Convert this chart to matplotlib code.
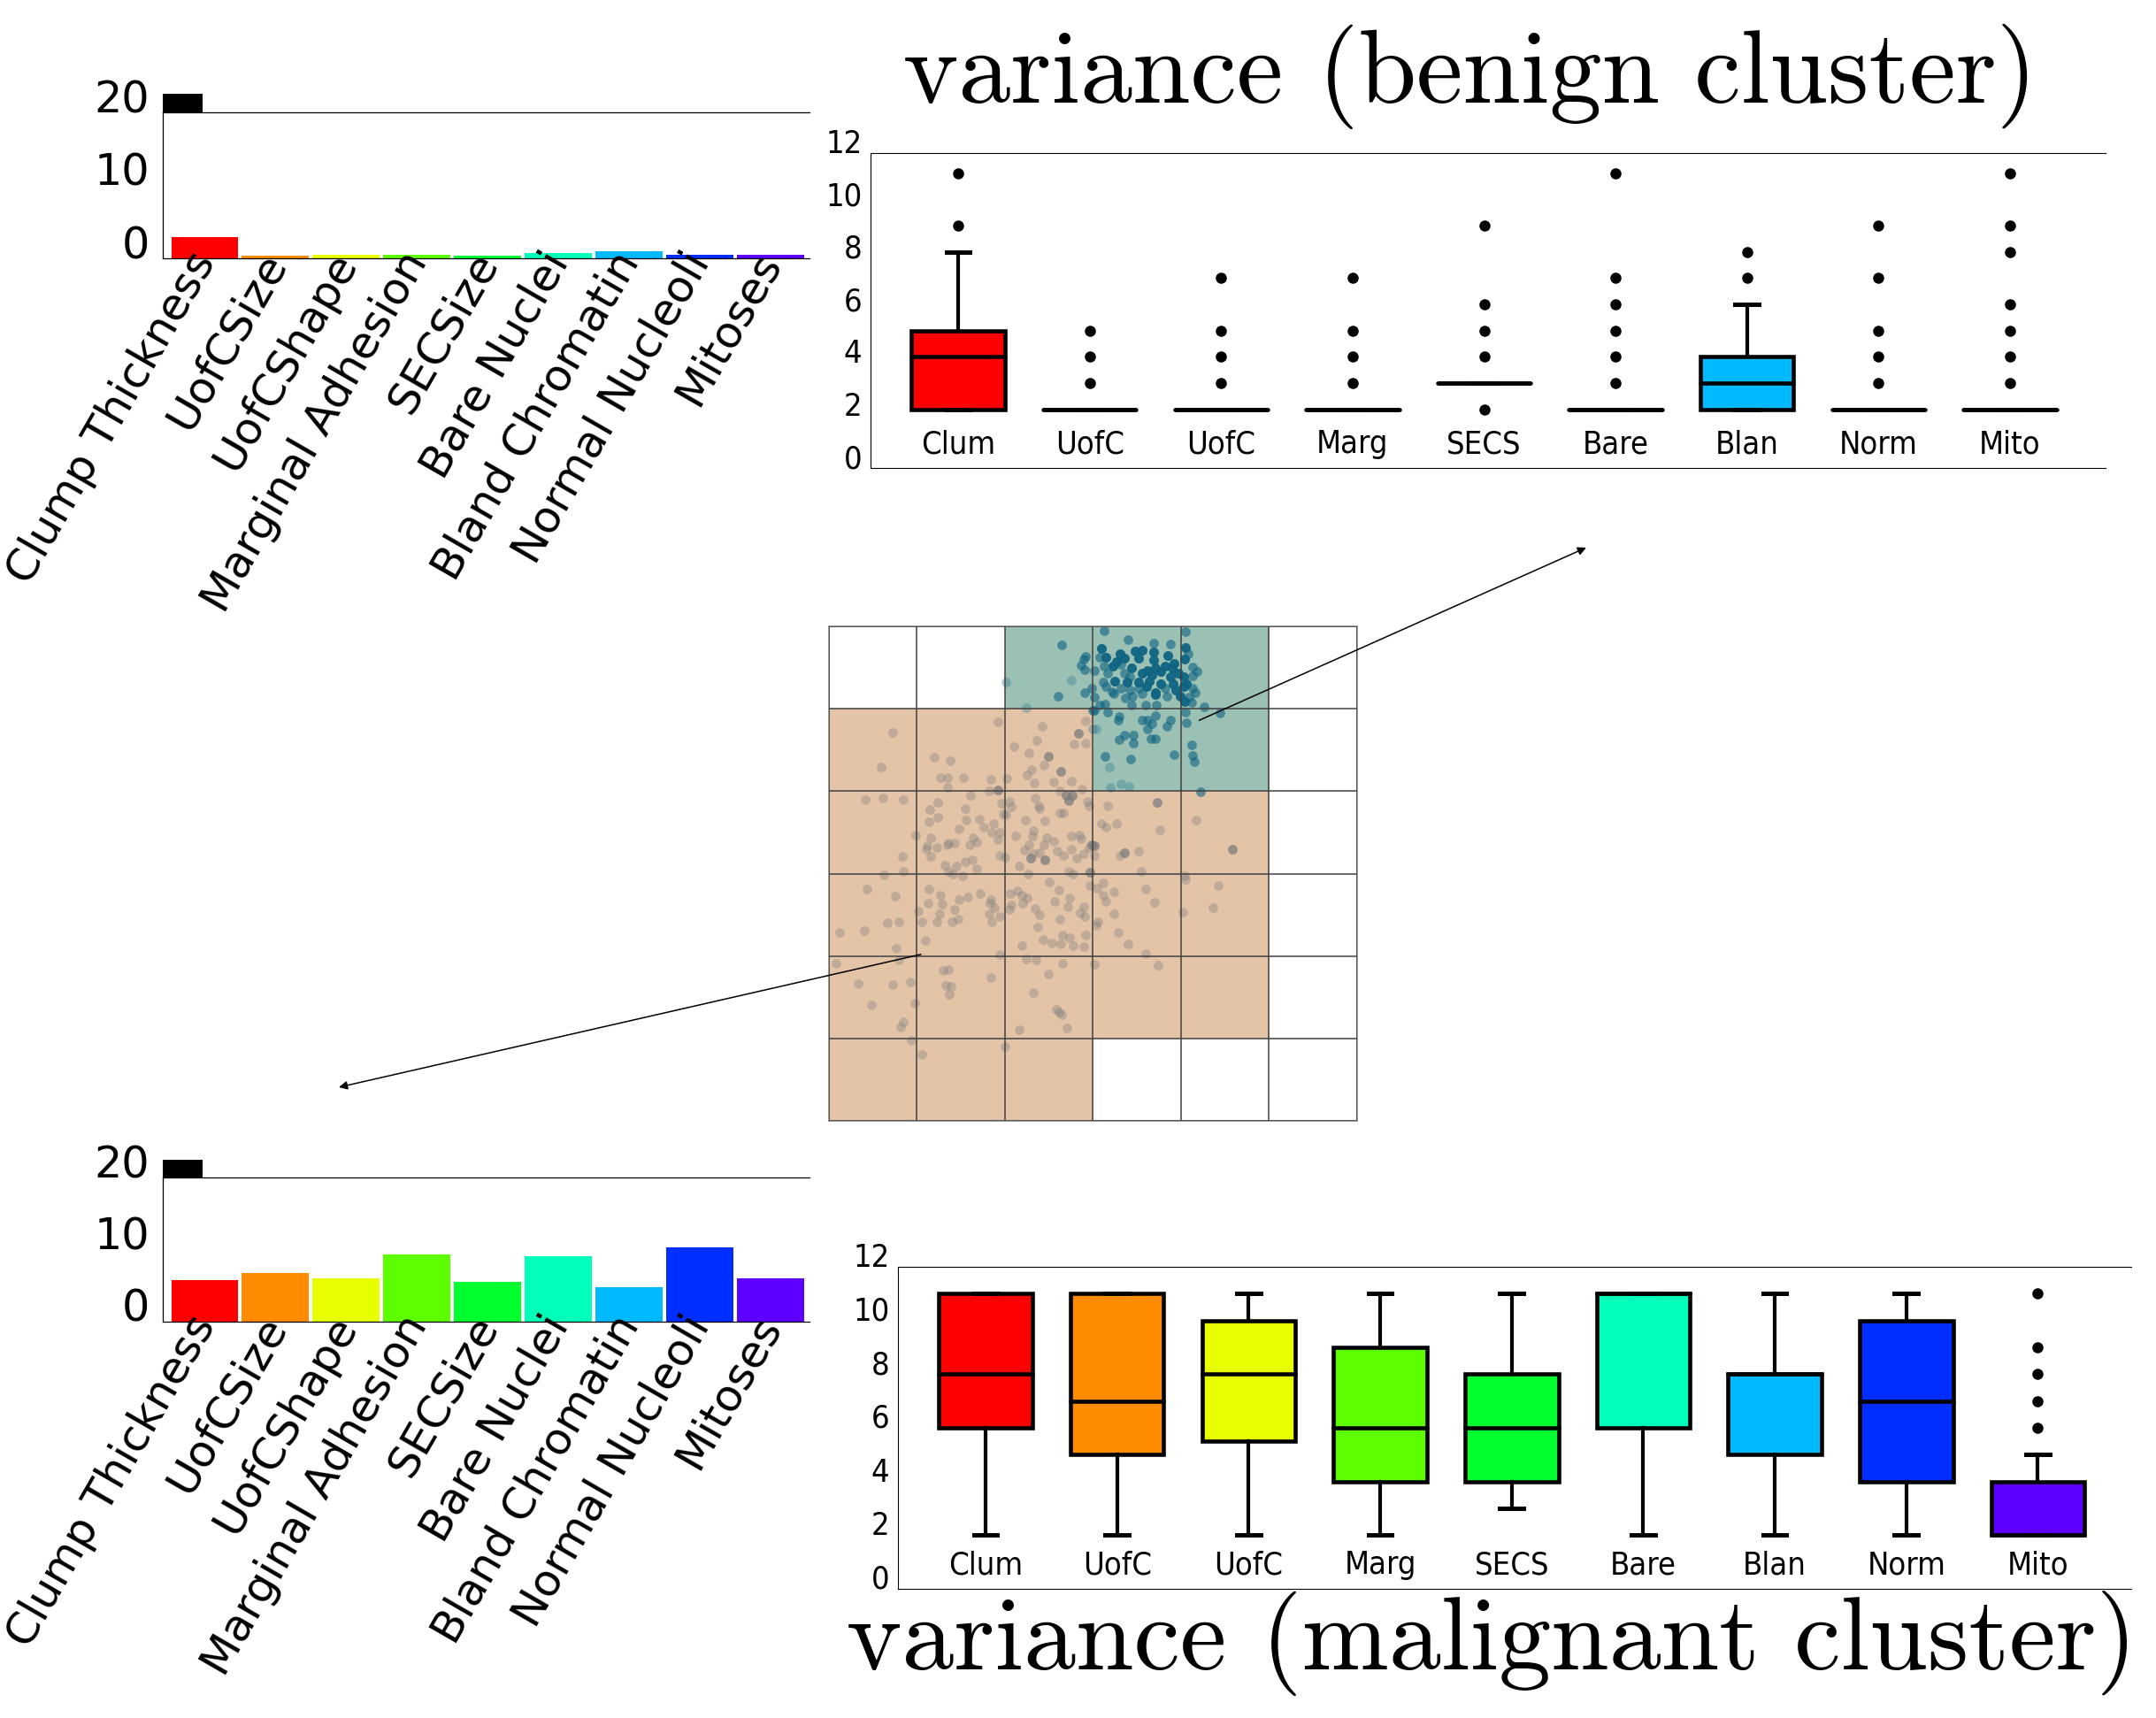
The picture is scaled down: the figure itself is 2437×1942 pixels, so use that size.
import colorsys
import numpy as np
import matplotlib
matplotlib.use('Agg')
import matplotlib.pyplot as plt
from matplotlib.colors import ListedColormap

# feature names and rainbow colours
features = ['Clump Thickness', 'UofCSize', 'UofCShape', 'Marginal Adhesion', 'SECSize',
            'Bare Nuclei', 'Bland Chromatin', 'Normal Nucleoli', 'Mitoses']
short_names = [f[:4] for f in features]
colors = [colorsys.hsv_to_rgb(i / 11.0, 1, 1) for i in range(9)]

# bar heights (left panels)
benign_bars = [2.9, 0.35, 0.5, 0.5, 0.35, 0.76, 0.96, 0.5, 0.5]
malignant_bars = [5.8, 6.77, 6.05, 9.35, 5.55, 9.1, 4.83, 10.33, 6.05]

# box statistics, benign cluster
b_q1 = [2.24, 2.24, 2.24, 2.24, 3.24, 2.24, 2.24, 2.24, 2.24]
b_med = [4.24, 2.24, 2.24, 2.24, 3.24, 2.24, 3.24, 2.24, 2.24]
b_q3 = [5.24, 2.24, 2.24, 2.24, 3.24, 2.24, 4.24, 2.24, 2.24]
b_lo = [2.24, 2.24, 2.24, 2.24, 3.24, 2.24, 2.24, 2.24, 2.24]
b_hi = [8.24, 2.24, 2.24, 2.24, 3.24, 2.24, 6.24, 2.24, 2.24]
b_fliers = [[9.24, 11.24], [3.24, 4.24, 5.24], [3.24, 4.24, 5.24, 7.24],
            [3.24, 4.24, 5.24, 7.24], [2.24, 4.24, 5.24, 6.24, 9.24],
            [3.24, 4.24, 5.24, 6.24, 7.24, 11.24], [7.24, 8.24],
            [3.24, 4.24, 5.24, 7.24, 9.24], [3.24, 4.24, 5.24, 6.24, 8.24, 9.24, 11.24]]

# box statistics, malignant cluster
m_q1 = [6, 5, 5.5, 4, 4, 6, 5, 4, 2]
m_med = [8, 7, 8, 6, 6, 11, 8, 7, 2]
m_q3 = [11, 11, 10, 9, 8, 11, 8, 10, 4]
m_lo = [2, 2, 2, 2, 3, 2, 2, 2, 2]
m_hi = [11, 11, 11, 11, 11, 11, 11, 11, 5]
m_fliers = [[], [], [], [], [], [], [], [], [6, 7, 8, 9, 11]]

# SOM map: 0 empty, 1 malignant, 2 benign (rows top -> bottom)
som_clusters = np.array([[0, 0, 2, 2, 2, 0],
                         [1, 1, 1, 2, 2, 0],
                         [1, 1, 1, 1, 1, 0],
                         [1, 1, 1, 1, 1, 0],
                         [1, 1, 1, 1, 1, 0],
                         [1, 1, 1, 0, 0, 0]])

# projected samples on the map
benign_pts = np.array([
    (2.65, 5.78), (2.92, 5.64), (2.90, 5.60), (2.87, 5.53), (2.91, 5.47), (2.99, 5.25), (2.91, 5.20),
    (2.61, 5.15), (3.00, 4.98), (3.13, 5.95), (4.05, 5.94), (3.40, 5.84), (3.69, 5.80), (3.88, 5.79),
    (3.10, 5.73), (3.08, 5.63), (3.15, 5.63), (3.31, 5.67), (3.48, 5.70), (3.56, 5.71), (3.69, 5.69),
    (3.85, 5.65), (4.05, 5.74), (4.08, 5.67), (3.27, 5.57), (3.36, 5.61), (3.52, 5.61), (3.69, 5.59),
    (3.92, 5.55), (4.04, 5.60), (3.13, 5.52), (3.23, 5.52), (3.32, 5.54), (3.44, 5.50), (3.62, 5.46),
    (3.71, 5.50), (3.82, 5.52), (3.90, 5.50), (4.13, 5.51), (4.19, 5.45), (3.02, 5.46), (3.17, 5.43),
    (3.36, 5.43), (3.42, 5.39), (3.56, 5.43), (3.67, 5.41), (3.77, 5.45), (3.88, 5.39), (3.97, 5.43),
    (4.03, 5.39), (4.13, 5.40), (3.12, 5.32), (3.25, 5.34), (3.39, 5.32), (3.52, 5.32), (3.64, 5.33),
    (3.77, 5.30), (3.91, 5.30), (4.06, 5.30), (3.15, 5.27), (3.22, 5.21), (3.32, 5.25), (3.42, 5.23),
    (3.52, 5.25), (3.61, 5.27), (3.71, 5.20), (3.82, 5.25), (3.94, 5.23), (4.03, 5.27), (4.13, 5.25),
    (3.24, 5.18), (3.37, 5.13), (3.45, 5.15), (3.56, 5.18), (3.71, 5.17), (3.84, 5.15), (3.99, 5.15),
    (4.09, 5.14), (4.16, 5.20), (3.44, 5.05), (3.60, 5.05), (3.72, 5.04), (4.04, 5.09), (4.12, 5.08),
    (3.02, 5.14), (3.08, 5.05), (3.14, 5.06), (3.17, 4.96), (3.02, 4.98), (4.27, 5.02), (4.45, 4.95),
    (4.05, 4.96), (3.30, 4.91), (3.29, 4.86), (3.71, 4.92), (3.56, 4.86), (3.62, 4.86), (3.67, 4.82),
    (3.88, 4.86), (3.84, 4.79), (4.06, 4.83), (3.62, 4.76), (3.36, 4.68), (3.30, 4.63), (3.46, 4.68),
    (3.46, 4.58), (3.66, 4.64), (3.71, 4.64), (4.12, 4.56), (3.92, 4.44), (3.14, 4.42), (3.43, 4.39),
    (4.13, 4.43), (4.15, 4.36), (4.23, 3.99)])
# dense core of the benign cluster: several identical samples per position
benign_stacked = np.array([
    (3.31, 5.67), (3.48, 5.70), (3.56, 5.71), (3.69, 5.69), (3.85, 5.65), (3.27, 5.57), (3.36, 5.61),
    (3.52, 5.61), (3.69, 5.59), (3.92, 5.55), (4.04, 5.60), (3.44, 5.50), (3.62, 5.46), (3.71, 5.50),
    (3.82, 5.52), (3.90, 5.50), (3.56, 5.43), (3.67, 5.41), (3.77, 5.45), (3.88, 5.39), (3.97, 5.43),
    (4.03, 5.39), (3.52, 5.32), (3.64, 5.33), (3.77, 5.30), (3.91, 5.30), (4.06, 5.30), (3.61, 5.27),
    (3.71, 5.20), (3.94, 5.23), (4.03, 5.27), (3.99, 5.15), (4.04, 5.09), (3.71, 5.17), (3.10, 5.73),
    (3.15, 5.63), (4.05, 5.74), (3.25, 5.34), (3.39, 5.32), (3.23, 5.52)])
benign_faint = np.array([(2.76, 5.35), (2.25, 5.01), (3.00, 4.75), (3.04, 4.75), (3.19, 4.29),
                         (3.20, 4.05), (3.32, 4.09), (3.41, 4.06), (2.01, 5.32)])

malignant_pts = np.array([
    (1.92, 4.84), (0.73, 4.71), (2.43, 4.79), (2.92, 4.85), (2.37, 4.62), (2.79, 4.57), (2.92, 4.58),
    (2.10, 4.54), (2.28, 4.47), (1.20, 4.41), (1.38, 4.37), (0.60, 4.29), (2.45, 4.31), (2.31, 4.26),
    (2.26, 4.20), (1.27, 4.16), (1.35, 4.17), (1.53, 4.17), (1.84, 4.14), (2.02, 4.15), (2.34, 4.10),
    (2.56, 4.11), (2.76, 4.12), (1.35, 4.05), (1.82, 4.00), (2.63, 4.00), (2.88, 4.03), (1.61, 3.95),
    (0.42, 3.90), (0.62, 3.92), (0.85, 3.90), (2.35, 3.92), (1.96, 3.85), (2.05, 3.87), (2.07, 3.81),
    (1.24, 3.86), (1.15, 3.78), (1.55, 3.79), (2.39, 3.82), (2.40, 3.79), (2.94, 3.88), (2.96, 3.82),
    (1.98, 3.72), (2.01, 3.71), (2.63, 3.74), (2.67, 3.74), (1.24, 3.68), (1.14, 3.63), (1.56, 3.65),
    (1.71, 3.66), (1.87, 3.61), (2.24, 3.65), (2.46, 3.64), (1.76, 3.56), (1.48, 3.54), (1.85, 3.50),
    (1.94, 3.50), (2.33, 3.52), (0.99, 3.47), (1.16, 3.44), (1.64, 3.44), (1.68, 3.38), (1.92, 3.41),
    (2.12, 3.46), (2.32, 3.46), (2.48, 3.43), (2.76, 3.46), (2.85, 3.47), (2.87, 3.42), (1.36, 3.37),
    (1.35, 3.35), (1.43, 3.37), (1.60, 3.35), (1.12, 3.34), (1.11, 3.29), (1.23, 3.32), (2.28, 3.35),
    (2.45, 3.35), (2.56, 3.39), (2.23, 3.28), (2.40, 3.25), (2.33, 3.24), (2.60, 3.27), (2.76, 3.30),
    (0.84, 3.21), (1.16, 3.21), (1.94, 3.22), (2.00, 3.20), (2.67, 3.22), (2.82, 3.19), (2.90, 3.24),
    (2.96, 3.32), (1.32, 3.10), (1.45, 3.09), (1.55, 3.14), (1.63, 3.17), (1.68, 3.06), (2.17, 3.09),
    (0.85, 3.03), (1.36, 3.03), (1.41, 3.00), (1.52, 2.97), (2.27, 3.00), (2.73, 3.03), (2.78, 2.99),
    (0.63, 2.98), (3.17, 3.82), (3.10, 3.61), (3.15, 3.56), (3.27, 3.61), (4.18, 3.65), (3.76, 3.53),
    (3.31, 3.22), (3.52, 3.27), (3.55, 3.03), (3.02, 3.22), (4.04, 2.97), (2.51, 2.90), (2.97, 2.85),
    (0.44, 2.81), (0.76, 2.73), (1.14, 2.81), (1.27, 2.74), (1.13, 2.64), (1.29, 2.63), (1.48, 2.68),
    (1.58, 2.72), (1.72, 2.76), (1.84, 2.68), (1.83, 2.64), (1.88, 2.59), (2.06, 2.76), (2.15, 2.79),
    (2.20, 2.74), (2.26, 2.71), (2.21, 2.64), (2.07, 2.62), (2.05, 2.57), (2.62, 2.80), (2.74, 2.70),
    (2.57, 2.66), (2.72, 2.60), (2.35, 2.58), (2.40, 2.50), (2.90, 2.60), (2.86, 2.52), (2.91, 2.48),
    (2.63, 2.45), (1.02, 2.54), (1.26, 2.51), (1.43, 2.57), (1.82, 2.51), (1.94, 2.48), (1.06, 2.42),
    (1.23, 2.42), (1.40, 2.41), (1.47, 2.45), (1.85, 2.41), (0.67, 2.40), (0.80, 2.41), (0.13, 2.29),
    (0.41, 2.31), (2.38, 2.35), (1.10, 2.19), (0.77, 2.09), (2.20, 2.13), (2.44, 2.20), (2.54, 2.16),
    (2.64, 2.15), (2.66, 2.25), (2.74, 2.22), (2.78, 2.13), (2.90, 2.11), (2.92, 2.25), (1.94, 2.02),
    (0.09, 1.91), (0.80, 1.95), (2.25, 1.96), (2.36, 1.95), (2.66, 1.91), (1.30, 1.82), (1.36, 1.83),
    (1.84, 1.74), (2.50, 1.78), (0.34, 1.66), (0.73, 1.65), (0.93, 1.69), (1.33, 1.64), (1.39, 1.63),
    (1.37, 1.53), (2.33, 1.56), (0.49, 1.41), (0.98, 1.43), (2.59, 1.35), (2.62, 1.32), (2.65, 1.29),
    (0.85, 1.20), (0.82, 1.14), (2.17, 1.10), (2.71, 1.13), (0.94, 0.98), (2.00, 0.90), (1.06, 0.81),
    (4.05, 2.93), (3.12, 2.89), (3.05, 2.82), (3.24, 2.78), (3.60, 2.81), (4.43, 2.85), (3.12, 2.74),
    (3.15, 2.66), (3.70, 2.65), (4.37, 2.59), (4.02, 2.53), (3.24, 2.51), (3.06, 2.42), (3.04, 2.37),
    (3.29, 2.29), (3.40, 2.15), (3.60, 2.03), (3.02, 1.90), (3.74, 1.89)])
# positions with several identical samples stacked
malignant_stacked = np.array([(2.84, 4.70), (2.50, 4.42), (2.64, 4.24), (1.92, 4.01), (2.70, 3.95),
                              (2.77, 3.95), (2.73, 3.89), (2.30, 3.19), (2.46, 3.17), (2.99, 3.35),
                              (2.97, 3.02), (3.73, 3.86), (3.02, 3.34), (3.36, 3.25), (4.59, 3.29)])

narrow = dict(family='DejaVu Sans', stretch='condensed')

fig = plt.figure(figsize=(24.37, 19.42), dpi=100)


def bar_panel(rect, values):
    ax = fig.add_axes(rect)
    x = np.arange(len(values))
    ax.bar(x, values, width=0.95, align='edge', color=colors)
    ax.bar(-0.12, 2.5, bottom=20, width=0.563, align='edge', color='k', clip_on=False)
    ax.set_xlim(-0.12, 9.03)
    ax.set_ylim(0, 20)
    ax.set_yticks([0, 10, 20])
    ax.set_yticklabels(['0', '10', '20'], va='baseline', fontsize=35.5)
    ax.set_xticks(x + 0.74)
    ax.set_xticklabels(features, rotation=60, ha='right', fontsize=36)
    ax.tick_params(axis='y', length=0, pad=11)
    ax.tick_params(axis='x', length=0, pad=-11)
    ax.spines['right'].set_visible(False)
    for s in ['left', 'top', 'bottom']:
        ax.spines[s].set_linewidth(0.9)
    return ax


def box_panel(rect, q1, med, q3, lo, hi, fliers, xmax):
    ax = fig.add_axes(rect)
    stats = [dict(q1=q1[i], med=med[i], q3=q3[i], whislo=lo[i], whishi=hi[i], fliers=fliers[i])
             for i in range(len(q1))]
    bp = ax.bxp(stats, positions=range(1, 10), widths=0.71, capwidths=0.18, patch_artist=True,
                boxprops=dict(edgecolor='k', linewidth=3.3),
                medianprops=dict(color='k', linewidth=3.3, solid_capstyle='round'),
                whiskerprops=dict(color='k', linewidth=3),
                capprops=dict(color='k', linewidth=3.6),
                flierprops=dict(marker='o', markerfacecolor='k', markeredgecolor='k',
                                markersize=8, linestyle='none'))
    for patch, c in zip(bp['boxes'], colors):
        patch.set_facecolor(c)
    ax.set_xlim(0.334, xmax)
    ax.set_ylim(0, 12)
    ax.set_yticks(range(0, 13, 2))
    ax.set_yticklabels([str(v) for v in range(0, 13, 2)], va='baseline', fontsize=26, **narrow)
    ax.set_xticks(range(1, 10))
    ax.set_xticklabels(short_names, va='baseline', fontsize=26, **narrow)
    ax.tick_params(axis='y', length=0, pad=7)
    ax.tick_params(axis='x', length=0, pad=-12)
    ax.spines['right'].set_visible(False)
    return ax


bar_panel([0.0755, 0.8496, 0.300, 0.085], benign_bars)
bar_panel([0.0755, 0.2307, 0.300, 0.0839], malignant_bars)

box_panel([0.4038, 0.7276, 0.5730, 0.1833], b_q1, b_med, b_q3, b_lo, b_hi, b_fliers, 9.73)
box_panel([0.4165, 0.0752, 0.572, 0.1874], m_q1, m_med, m_q3, m_lo, m_hi, m_fliers, 9.71)

fig.text(0.682, 0.9403, 'variance (benign cluster)', ha='center', va='baseline',
         fontsize=85, family='cmr10')
fig.text(0.6918, 0.0283, 'variance (malignant cluster)', ha='center', va='baseline',
         fontsize=85, family='cmr10')

# SOM map in the middle
ax_c = fig.add_axes([0.3843, 0.3476, 0.245, 0.2878])
ax_c.imshow(som_clusters, cmap=ListedColormap(['white', '#e4c4a7', '#9bc0b4']), vmin=0, vmax=2,
            extent=(0, 6, 0, 6), origin='upper', aspect='auto', interpolation='nearest')
ax_c.scatter(malignant_pts[:, 0], malignant_pts[:, 1], s=60, color='#7e7e7e', alpha=0.37, lw=0)
for k in range(3):
    ax_c.scatter(malignant_stacked[:, 0], malignant_stacked[:, 1], s=60, color='#7e7e7e',
                 alpha=0.37, lw=0)
ax_c.scatter(benign_faint[:, 0], benign_faint[:, 1], s=60, color='#2a7890', alpha=0.35, lw=0)
ax_c.scatter(benign_pts[:, 0], benign_pts[:, 1], s=60, color='#0e6482', alpha=0.6, lw=0)
for k in range(2):
    ax_c.scatter(benign_stacked[:, 0], benign_stacked[:, 1], s=60, color='#0e6482',
                 alpha=0.6, lw=0)
ax_c.set_xlim(0, 6)
ax_c.set_ylim(0, 6)
ax_c.set_xticks(range(7))
ax_c.set_yticks(range(7))
ax_c.set_xticklabels([])
ax_c.set_yticklabels([])
ax_c.tick_params(length=0)
ax_c.grid(True, color='#404040', lw=1.1)
ax_c.set_axisbelow(False)
for s in ax_c.spines.values():
    s.set_color('#999999')
    s.set_linewidth(1.4)

arrow = dict(arrowstyle='-|>', color='k', lw=1.1, shrinkA=0, shrinkB=0, mutation_scale=14)
ax_c.annotate('', xy=(1793 / 2437, 1 - 619 / 1942), xycoords='figure fraction',
              xytext=(4.21, 4.86), textcoords='data', arrowprops=arrow)
ax_c.annotate('', xy=(383 / 2437, 1 - 1229 / 1942), xycoords='figure fraction',
              xytext=(1.05, 2.02), textcoords='data', arrowprops=arrow)

fig.savefig('out.png', dpi=100, facecolor='white')
